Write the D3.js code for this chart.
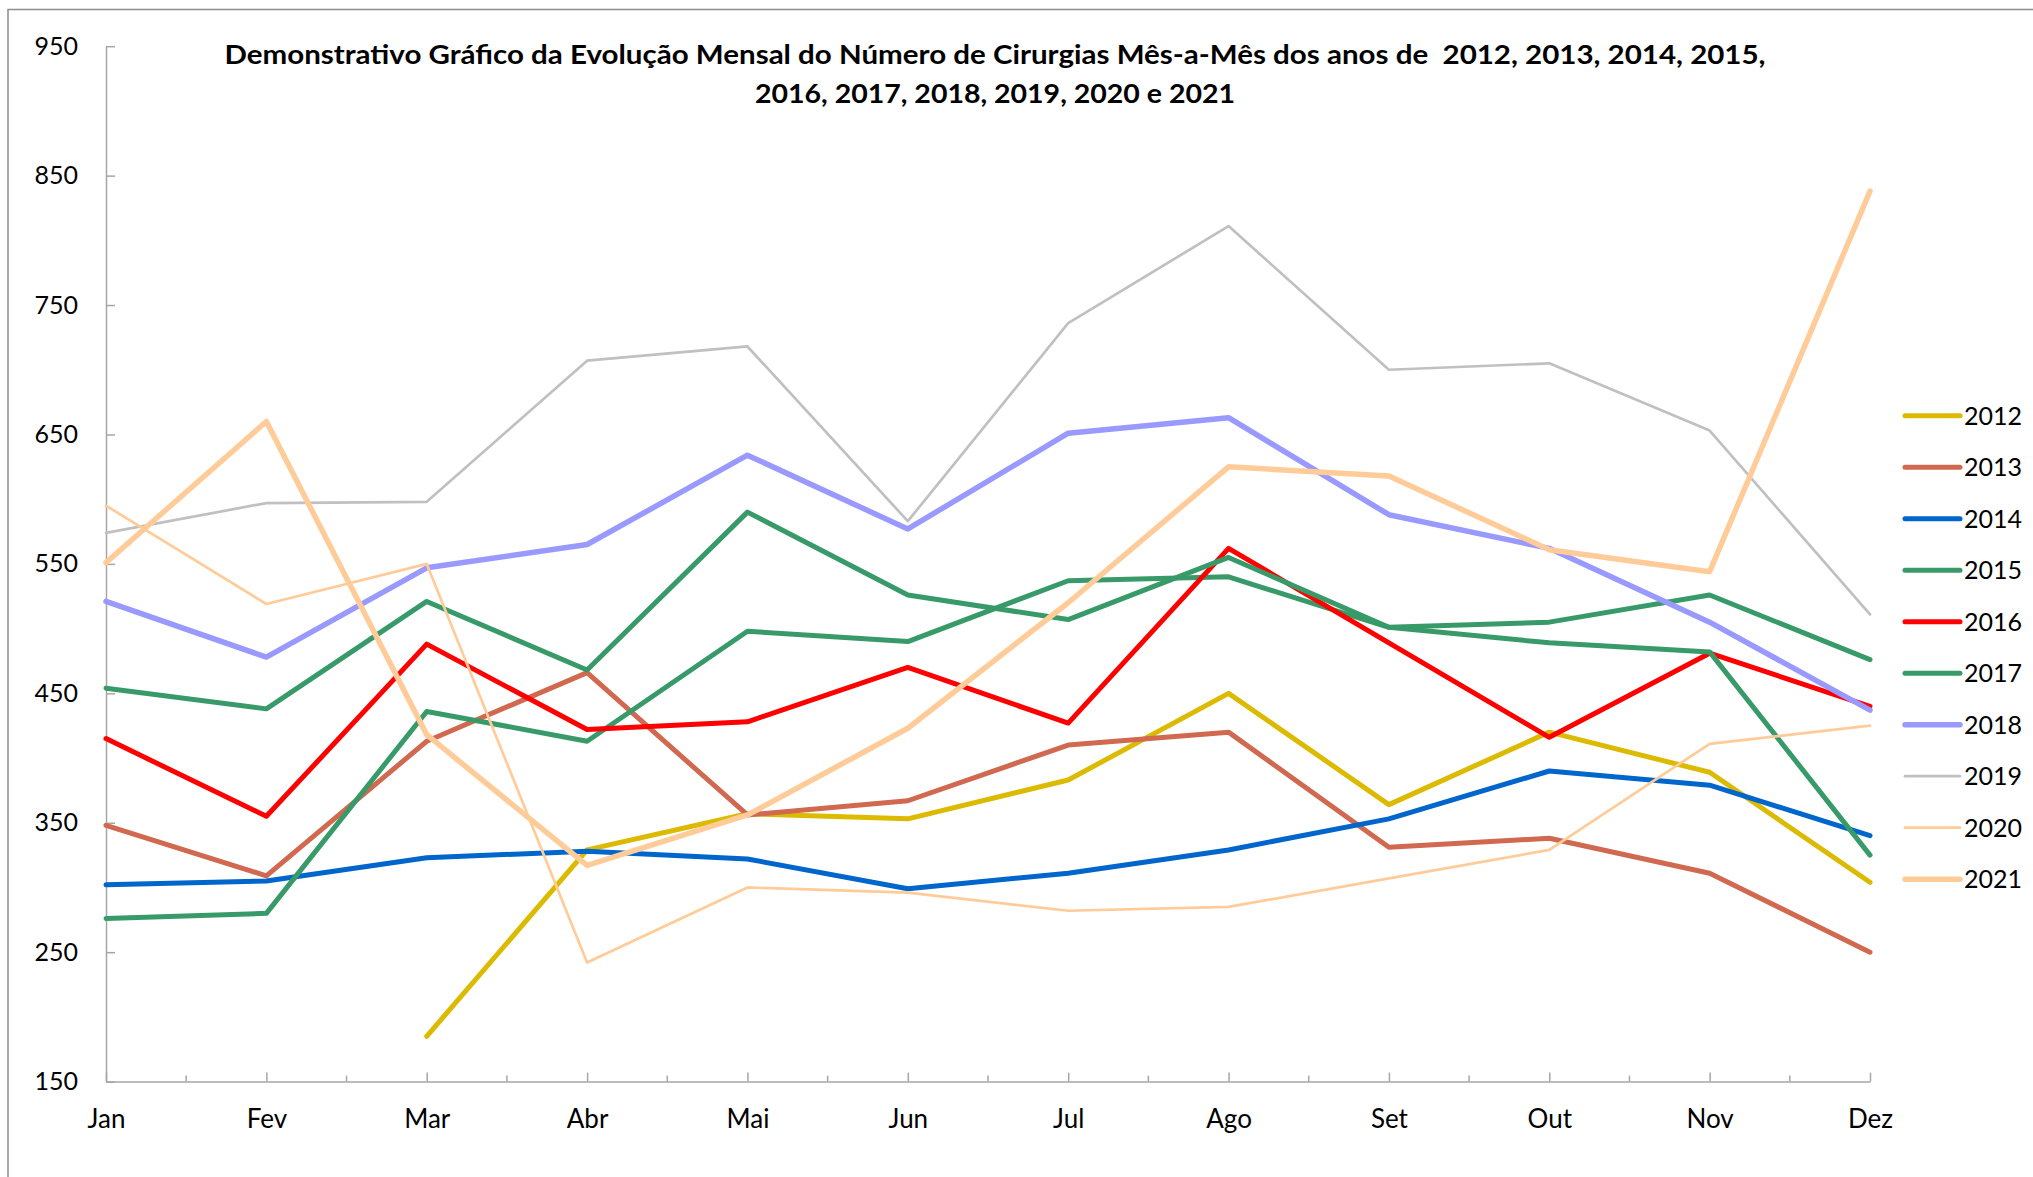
<!DOCTYPE html>
<html lang="pt">
<head>
  <meta charset="UTF-8">
  <script src="https://d3js.org/d3.v7.min.js"></script>
  <title>Evolução Mensal do Número de Cirurgias</title>
  <style>
    body {
      margin: 0;
      background: #fff;
      font-family: Lato, "Open Sans", sans-serif;
    }
    .axis path, .axis line {
      stroke: #a6a6a6;
      stroke-width: 1.5px;
    }
    .axis text {
      fill: #000;
    }
    .title {
      font-weight: bold;
      font-size: 26px;
    }
    .legend-label {
      font-size: 25px;
    }
  </style>
</head>
<body>
  <svg id="chart" width="2033" height="1177"></svg>

  <script>
    const months = ["Jan", "Fev", "Mar", "Abr", "Mai", "Jun", "Jul", "Ago", "Set", "Out", "Nov", "Dez"];
    const years = ["2012", "2013", "2014", "2015", "2016", "2017", "2018", "2019", "2020", "2021"];
    const yTicks = [150, 250, 350, 450, 550, 650, 750, 850, 950];

    // values read month by month (null = no data)
    const v2012 = [null, null, 185, 329, 357, 353, 383, 450, 364, 420, 389, 304];
    const v2013 = [348, 309, 413, 466, 356, 367, 410, 420, 331, 338, 311, 250];
    const v2014 = [302, 305, 323, 328, 322, 299, 311, 329, 353, 390, 379, 340];
    const v2015 = [276, 280, 436, 413, 498, 490, 537, 540, 501, 505, 526, 476];
    const v2016 = [415, 355, 488, 422, 428, 470, 427, 562, 489, 416, 481, 440];
    const v2017 = [454, 438, 521, 468, 590, 526, 507, 555, 501, 489, 482, 325];
    const v2018 = [521, 478, 547, 565, 634, 577, 651, 663, 588, 562, 505, 437];
    const v2019 = [574, 597, 598, 707, 718, 583, 736, 811, 700, 705, 653, 511];
    const v2020 = [595, 519, 550, 242, 300, 296, 282, 285, 307, 329, 411, 425];
    const v2021 = [551, 660, 418, 317, 356, 423, 520, 625, 618, 561, 544, 838];

    const seriesValues = [v2012, v2013, v2014, v2015, v2016, v2017, v2018, v2019, v2020, v2021];
    const colors = ["#dbba00", "#d0694f", "#0066cc", "#389a69", "#ff0000", "#389a69", "#9999ff", "#c0c0c0", "#ffcc99", "#ffcc99"];
    const widths = [5, 5, 5, 5, 5, 5, 5.5, 2.7, 2.7, 5.5];

    const svg = d3.select("#chart");

    // outer chart frame (runs off the right and bottom edges)
    svg.append("rect")
      .attr("x", 8)
      .attr("y", 9.5)
      .attr("width", 2200)
      .attr("height", 1400)
      .attr("fill", "none")
      .attr("stroke", "#8c8c8c")
      .attr("stroke-width", 1.5);

    const x = d3.scalePoint().domain(months).range([106, 1870]);
    const y = d3.scaleLinear().domain([150, 950]).range([1081.6, 46.2]);

    // title
    const title = svg.append("g").attr("class", "title");
    title.append("text")
      .attr("xml:space", "preserve")
      .attr("x", 995).attr("y", 64)
      .attr("text-anchor", "middle")
      .attr("textLength", 1541)
      .attr("lengthAdjust", "spacingAndGlyphs")
      .text("Demonstrativo Gráfico da Evolução Mensal do Número de Cirurgias Mês-a-Mês dos anos de  2012, 2013, 2014, 2015,");
    title.append("text")
      .attr("x", 995).attr("y", 102.5)
      .attr("text-anchor", "middle")
      .attr("textLength", 480)
      .attr("lengthAdjust", "spacingAndGlyphs")
      .text("2016, 2017, 2018, 2019, 2020 e 2021");

    // y axis
    svg.append("g")
      .attr("class", "axis")
      .attr("transform", `translate(${x("Jan")},0)`)
      .call(d3.axisLeft(y).tickValues(yTicks).tickSizeInner(-9).tickSizeOuter(0).tickPadding(28))
      .call(g => g.selectAll("text").attr("font-size", 25).attr("font-family", "Lato, sans-serif"));

    // x axis
    svg.append("g")
      .attr("class", "axis")
      .attr("transform", `translate(0,${y(150)})`)
      .call(d3.axisBottom(x).tickSizeInner(-9).tickSizeOuter(0).tickPadding(28))
      .call(g => g.selectAll("text").attr("font-size", 26).attr("font-family", "Lato, sans-serif"));

    // minor ticks between months
    const mids = months.slice(0, -1).map((m, i) => (x(m) + x(months[i + 1])) / 2);
    svg.append("g")
      .selectAll("line")
      .data(mids)
      .join("line")
      .attr("x1", d => d).attr("x2", d => d)
      .attr("y1", y(150)).attr("y2", y(150) - 6)
      .attr("stroke", "#a6a6a6")
      .attr("stroke-width", 1.5);

    const line = d3.line()
      .defined(d => d.v != null)
      .x(d => x(d.m))
      .y(d => y(d.v));

    svg.append("g")
      .selectAll("path")
      .data(years.map((yr, i) => ({ year: yr, i: i, pts: seriesValues[i].map((v, j) => ({ m: months[j], v: v })) })))
      .join("path")
      .attr("d", d => line(d.pts))
      .attr("fill", "none")
      .attr("stroke", d => colors[d.i])
      .attr("stroke-width", d => widths[d.i])
      .attr("stroke-linejoin", "round")
      .attr("stroke-linecap", "round");

    // legend
    const legend = svg.append("g");
    const items = legend.selectAll("g")
      .data(years)
      .join("g")
      .attr("transform", (d, i) => `translate(1905,${415.7 + i * 51.5})`);

    items.append("line")
      .attr("x1", 0).attr("x2", 55)
      .attr("stroke", (d, i) => colors[i])
      .attr("stroke-width", (d, i) => widths[i])
      .attr("stroke-linecap", "round");

    items.append("text")
      .attr("class", "legend-label")
      .attr("x", 59)
      .attr("y", 9)
      .text(d => d);
  </script>
</body>
</html>
